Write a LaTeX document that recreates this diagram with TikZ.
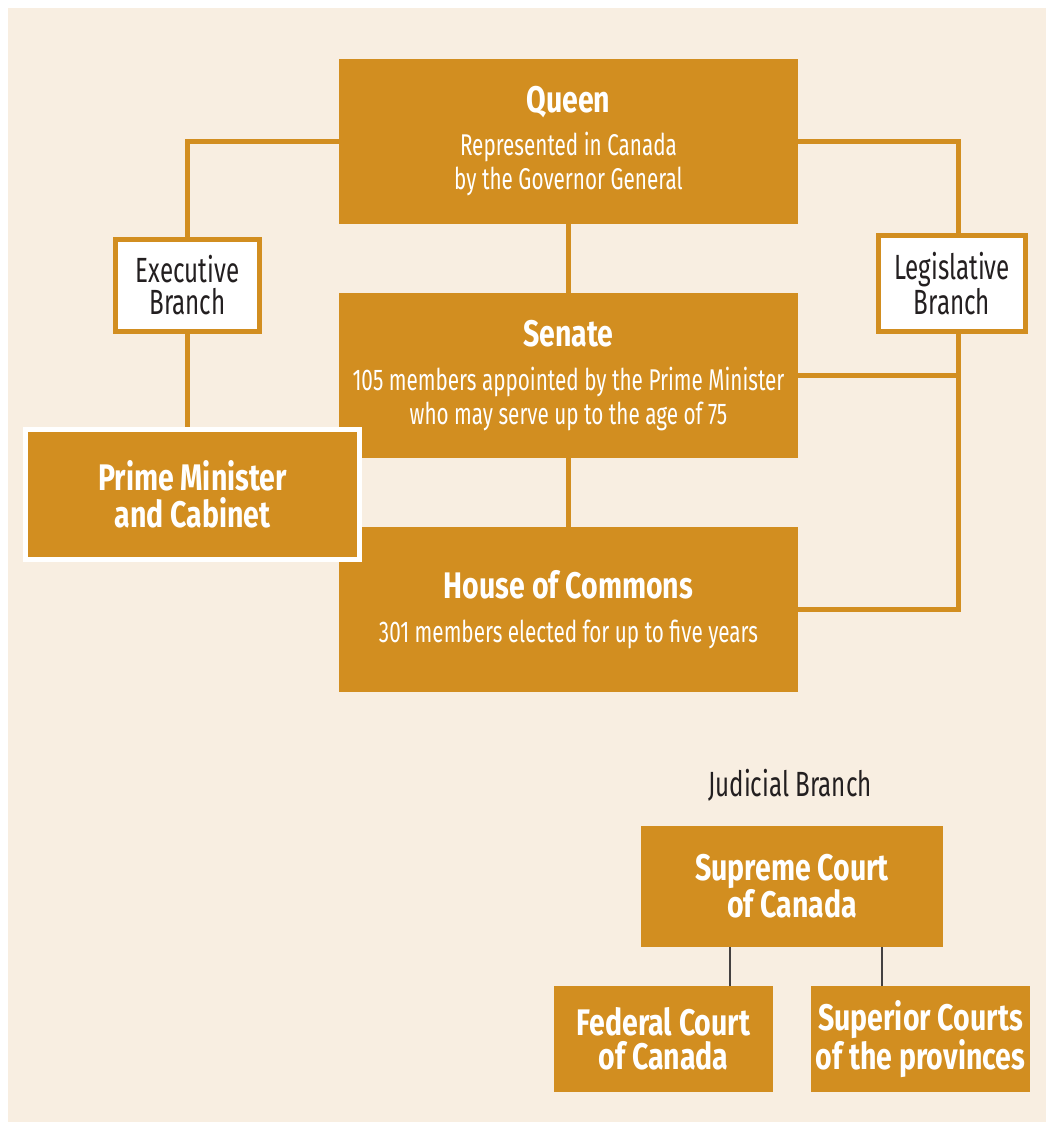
\documentclass[tikz,border=0pt]{standalone}
\usepackage{fontspec}
\setmainfont{Fira Sans}[FakeStretch=0.69, BoldFeatures={FakeStretch=0.77}]
\usetikzlibrary{calc}
\definecolor{ochre}{RGB}{210,142,32}
\definecolor{parchment}{RGB}{248,238,225}
\definecolor{ink}{RGB}{35,31,32}
\def\headtext#1{{\bfseries\fontsize{37}{34}\selectfont #1}}
\tikzset{
  govbox/.style={fill=ochre, text=white, align=center, inner sep=0pt,
    font=\fontsize{30}{34}\selectfont},
  courtbox/.style={govbox, font=\bfseries\fontsize{37}{34}\selectfont},
  branchbox/.style={draw=ochre, line width=5pt, fill=white, text=ink, align=center,
    inner sep=0pt, font=\fontsize{35}{32}\selectfont},
  link/.style={draw=ochre, line width=5pt},
  courtlink/.style={draw=ink!85, line width=1.2pt}
}

\begin{document}
\begin{tikzpicture}[x=1pt,y=-1pt]
  \useasboundingbox (0,0) rectangle (1046,1122);
  \fill[parchment] (8,8) rectangle (1046,1122);

  \node[govbox, minimum width=459pt, minimum height=165pt] (queen) at (568.5,141.5)
    {\headtext{Queen}\\[9pt]Represented in Canada\\by the Governor General};
  \node[govbox, minimum width=459pt, minimum height=165pt] (senate) at (568.5,375.5)
    {\headtext{Senate}\\[10pt]105 members appointed by the Prime Minister\\who may serve up to the age of 75};
  \node[govbox, minimum width=459pt, minimum height=165pt] (commons) at (568.5,609.5)
    {\headtext{House of Commons}\\[10pt]301 members elected for up to five years};
  \node[courtbox, draw=white, line width=5pt, minimum width=334pt, minimum height=130pt,
    font=\bfseries\fontsize{37}{37}\selectfont] (pm) at (192.5,494.5)
    {Prime Minister\\and Cabinet};

  \node[branchbox, minimum width=144pt, minimum height=92pt] (exec) at (187.5,285.5)
    {Executive\\Branch};
  \node[branchbox, minimum width=147pt, minimum height=96pt] (leg) at (952,283.5)
    {Legislative\\Branch};
  \coordinate (legrail) at (958,0);

  \draw[link] (queen.west) -| (exec.north);
  \draw[link] (exec.south) -- (exec.south |- pm.north);
  \draw[link] (queen.east) -| (legrail |- leg.north);
  \draw[link] (legrail |- leg.south) |- (commons.east);
  \draw[link] (senate.east) -- (senate.east -| legrail);
  \draw[link] (queen.south) -- (senate.north);
  \draw[link] (senate.south) -- (commons.north);

  \node[text=ink, font=\fontsize{35}{34}\selectfont] (judicial) at (790,785) {Judicial Branch};
  \node[courtbox, minimum width=302pt, minimum height=121pt] (supreme) at (792,886.5)
    {Supreme Court\\of Canada};
  \node[courtbox, minimum width=219pt, minimum height=106pt] (federal) at (663.5,1039)
    {Federal Court\\of Canada};
  \node[courtbox, minimum width=219pt, minimum height=106pt] (superior) at (920.5,1039)
    {Superior Courts\\of the provinces};
  \coordinate (fedlink) at (730,0);
  \coordinate (suplink) at (882,0);

  \draw[courtlink] (supreme.south -| fedlink) -- (federal.north -| fedlink);
  \draw[courtlink] (supreme.south -| suplink) -- (superior.north -| suplink);
\end{tikzpicture}
\end{document}
